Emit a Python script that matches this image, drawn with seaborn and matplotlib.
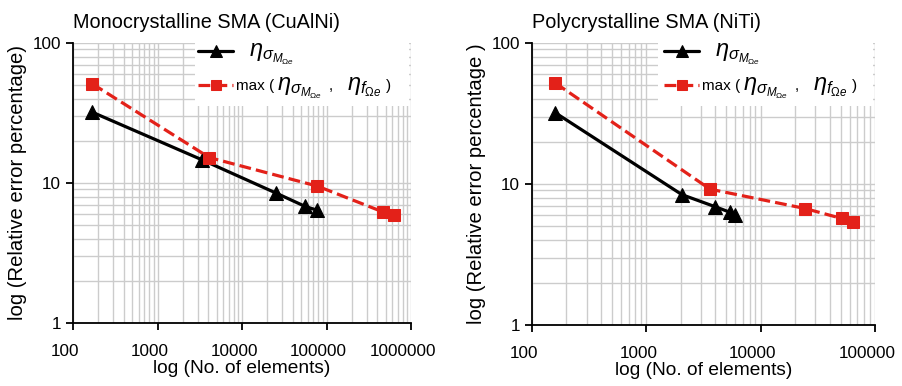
import matplotlib
matplotlib.use("Agg")
import matplotlib.pyplot as plt
import matplotlib.ticker as mticker
import matplotlib.patches as mpatches
from matplotlib.transforms import IdentityTransform, ScaledTranslation
import seaborn as sns

# ---- data ----
mono_eta_x = [170, 3400, 25000, 56000, 77000]
mono_eta_y = [32, 14.6, 8.5, 6.8, 6.4]
mono_max_x = [170, 4100, 78000, 470000, 630000]
mono_max_y = [51, 15.2, 9.5, 6.2, 5.9]

poly_eta_x = [160, 2050, 4000, 5400, 6000]
poly_eta_y = [32, 8.4, 6.9, 6.3, 6.0]
poly_max_x = [160, 3600, 24500, 51000, 64000]
poly_max_y = [52, 9.2, 6.7, 5.7, 5.4]

titles = ["Monocrystalline SMA (CuAlNi)", "Polycrystalline SMA (NiTi)"]
ylabels = ["log (Relative error percentage)", "log (Relative error percentage )"]
xlabel = "log (No. of elements)"
xlims = [(100, 1e6), (100, 1e5)]
label_eta = r"  $\eta_{\sigma_{M_{\Omega e}}}$"
label_max_parts = ["max (", r"$\eta_{\sigma_{M_{\Omega e}}}$", ",", r"$\eta_{f_{\Omega e}}$", ")"]

sns.set_style("white")
plt.rcParams['font.family'] = ['Liberation Sans', 'DejaVu Sans']
plt.rcParams['mathtext.fontset'] = 'custom'
plt.rcParams['mathtext.it'] = 'Liberation Sans:italic'
plt.rcParams['mathtext.rm'] = 'Liberation Sans'
for k in ['text.color', 'axes.labelcolor', 'xtick.color', 'ytick.color']:
    plt.rcParams[k] = 'black'

RED = '#e32119'
fig = plt.figure(figsize=(9.02, 3.86), dpi=100)
W, H = 902, 386
axpos = [(73, 43, 411, 323), (532, 43, 875, 325)]
series = [(mono_eta_x, mono_eta_y, mono_max_x, mono_max_y),
          (poly_eta_x, poly_eta_y, poly_max_x, poly_max_y)]
legends = []
shift = ScaledTranslation(-8 / 100, 0, fig.dpi_scale_trans)

for i in range(2):
    x0, y0, x1, y1 = axpos[i]
    ax = fig.add_axes([x0 / W, 1 - y1 / H, (x1 - x0) / W, (y1 - y0) / H])
    ex, ey, mx, my = series[i]
    sns.lineplot(x=ex, y=ey, ax=ax, color='black', marker='^', markersize=10,
                 linewidth=2.3, markeredgecolor='black', sort=False, label=label_eta)
    sns.lineplot(x=mx, y=my, ax=ax, color=RED, marker='s', markersize=9,
                 linewidth=2.3, linestyle='--', markeredgecolor=RED, sort=False,
                 label=label_max_parts[0])
    ax.set_xscale('log')
    ax.set_yscale('log')
    ax.set_xlim(*xlims[i])
    ax.set_ylim(1, 100)
    ax.grid(True, which='both', color='#cccccc', linewidth=1.0)
    ax.set_axisbelow(True)
    # white legend area hiding the grid
    lx = (195 - x0) / (x1 - x0) if i == 0 else (658 - x0) / (x1 - x0)
    ax.add_patch(mpatches.Rectangle((lx, 0.775), 0.993 - lx, 0.225, transform=ax.transAxes,
                                    facecolor='white', edgecolor='none', zorder=1))
    for s in ['top', 'right']:
        ax.spines[s].set_visible(False)
    for s in ['left', 'bottom']:
        ax.spines[s].set_color('black')
        ax.spines[s].set_linewidth(1.3)
    ax.xaxis.set_major_formatter(mticker.FuncFormatter(lambda v, p: f"{int(round(v))}"))
    ax.yaxis.set_major_formatter(mticker.FuncFormatter(lambda v, p: f"{int(round(v))}"))
    ax.xaxis.set_minor_formatter(mticker.NullFormatter())
    ax.yaxis.set_minor_formatter(mticker.NullFormatter())
    ax.tick_params(which='major', direction='out', length=5, width=1.3, labelsize=12.3,
                   bottom=True, left=True, color='black')
    ax.tick_params(which='minor', length=0)
    ax.tick_params(axis='x', pad=10)
    for lab in ax.get_xticklabels():
        lab.set_transform(lab.get_transform() + shift)
    ax.set_xlabel(xlabel, fontsize=13.8, labelpad=1)
    ax.set_ylabel(ylabels[i], fontsize=14.6, labelpad=4)
    ax.set_title(titles[i], loc='left', fontsize=14.3, pad=11)
    hx = (198 - x0) / (x1 - x0) if i == 0 else (664 - x0) / (x1 - x0)
    leg = ax.legend(loc='upper left', bbox_to_anchor=(hx, 1.013), frameon=False,
                    fontsize=11, handlelength=2.3, handletextpad=0.2, borderpad=0,
                    borderaxespad=0, labelspacing=0.8, markerscale=0.8)
    texts = leg.get_texts()
    texts[0].set_fontsize(17)
    legends.append(leg)

# compose the rest of the second legend label with mixed font sizes
fig.canvas.draw()
renderer = fig.canvas.get_renderer()
sizes = [None, 17, 11, 17, 11]
gaps = [0, 3, 6, 14, 5]
for leg in legends:
    t = leg.get_texts()[1]
    bx, by = t.get_transform().transform((0, 0))
    xcur = t.get_window_extent(renderer).x1
    for part, fs, gap in zip(label_max_parts[1:], sizes[1:], gaps[1:]):
        tt = fig.text(xcur + gap, by, part, fontsize=fs, va='baseline', ha='left',
                      transform=IdentityTransform())
        xcur = tt.get_window_extent(renderer).x1

fig.savefig("out.png", dpi=100)
